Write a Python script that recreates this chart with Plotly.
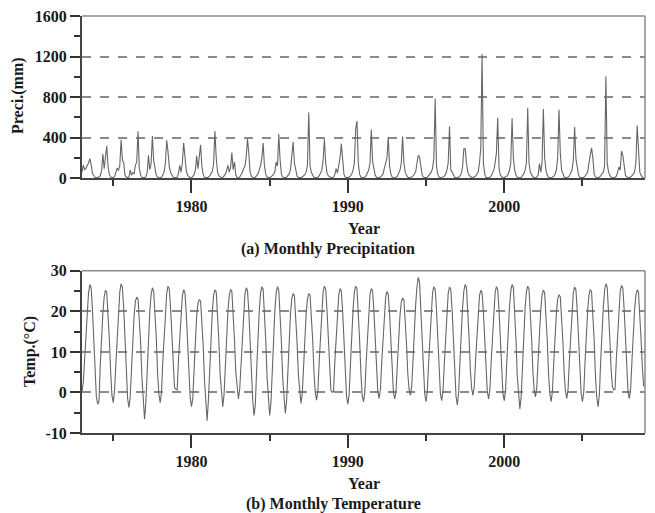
import plotly.graph_objects as go
from plotly.subplots import make_subplots

start_year = 1973
# Monthly precipitation (mm), Jan..Dec per row, 1973-2008
precip_mm = [
    60, 130, 85, 95, 125, 150, 193, 140, 45, 20, 10, 6,
    4, 12, 25, 70, 238, 95, 200, 318, 115, 35, 12, 5,
    8, 18, 60, 100, 75, 125, 380, 180, 150, 30, 14, 4,
    10, 80, 30, 55, 45, 130, 160, 462, 95, 32, 9, 5,
    6, 15, 55, 226, 85, 140, 415, 175, 80, 28, 12, 4,
    5, 12, 30, 65, 150, 374, 260, 110, 55, 22, 9, 6,
    7, 10, 45, 128, 60, 150, 350, 200, 75, 30, 12, 5,
    4, 15, 35, 80, 220, 95, 200, 330, 115, 35, 10, 6,
    5, 12, 22, 45, 65, 150, 465, 200, 60, 25, 12, 5,
    6, 20, 40, 75, 128, 60, 105, 252, 85, 160, 30, 10,
    5, 12, 30, 55, 95, 120, 210, 390, 244, 60, 20, 6,
    4, 10, 25, 45, 80, 125, 200, 347, 120, 40, 12, 5,
    6, 12, 22, 40, 65, 160, 120, 435, 180, 42, 11, 5,
    5, 10, 25, 45, 85, 200, 360, 150, 60, 22, 10, 4,
    6, 12, 20, 35, 60, 130, 647, 120, 55, 22, 9, 5,
    4, 10, 22, 45, 80, 180, 385, 150, 50, 25, 12, 6,
    5, 12, 35, 95, 50, 120, 200, 340, 180, 40, 10, 5,
    6, 12, 22, 45, 80, 150, 488, 563, 150, 40, 12, 4,
    5, 10, 25, 55, 80, 150, 481, 165, 90, 30, 10, 6,
    4, 12, 22, 40, 100, 145, 200, 405, 120, 40, 12, 5,
    6, 10, 20, 45, 80, 150, 410, 150, 60, 30, 10, 5,
    5, 12, 22, 40, 60, 145, 225, 210, 100, 32, 10, 4,
    6, 10, 25, 45, 60, 100, 200, 785, 120, 40, 12, 5,
    5, 12, 20, 40, 80, 150, 510, 80, 60, 30, 10, 6,
    4, 10, 22, 45, 110, 290, 292, 150, 60, 30, 12, 5,
    6, 12, 20, 40, 60, 150, 300, 1225, 150, 40, 10, 5,
    5, 10, 22, 45, 80, 150, 250, 595, 100, 30, 12, 4,
    6, 12, 20, 40, 80, 150, 592, 200, 80, 32, 10, 5,
    5, 10, 25, 45, 80, 150, 693, 150, 60, 30, 12, 6,
    4, 12, 30, 144, 60, 150, 683, 200, 80, 30, 10, 5,
    6, 10, 20, 40, 80, 200, 675, 250, 80, 32, 12, 5,
    5, 12, 22, 45, 80, 177, 504, 193, 100, 30, 10, 4,
    6, 10, 20, 40, 60, 150, 242, 300, 200, 40, 12, 5,
    5, 12, 22, 45, 60, 120, 1005, 150, 60, 30, 10, 6,
    4, 10, 20, 60, 111, 80, 268, 226, 90, 30, 12, 5,
    6, 12, 22, 40, 60, 150, 520, 200, 60, 30, 10, 5,
]

# Monthly mean temperature (deg C), Jan..Dec per row, 1973-2008
temp_c = [
    0.2, 2.5, 8.0, 14.5, 20.0, 24.5, 26.6, 25.8, 20.5, 13.8, 5.5, -1.0,
    -2.9, -2.3, 6.5, 13.5, 19.5, 23.5, 25.2, 24.6, 20.0, 13.0, 5.0, -0.8,
    -2.5, 0.5, 7.0, 14.0, 20.5, 24.8, 26.8, 25.9, 20.8, 13.2, 4.5, -1.5,
    -3.7, -1.0, 5.8, 13.0, 19.0, 22.5, 23.5, 23.0, 18.5, 12.0, 3.5, -2.8,
    -6.6, -2.5, 6.0, 14.0, 19.8, 24.0, 25.8, 25.0, 20.0, 13.5, 4.8, -0.5,
    -2.5, 0.0, 7.5, 14.2, 20.3, 24.5, 26.2, 25.5, 20.6, 13.5, 5.5, 1.2,
    0.8, 0.6, 7.8, 13.8, 19.8, 23.8, 25.3, 24.6, 19.5, 12.6, 4.2, -1.2,
    -3.5, -1.5, 5.5, 13.0, 19.0, 22.0, 22.9, 22.5, 18.0, 11.5, 3.0, -3.2,
    -7.0, -2.0, 6.8, 14.5, 20.0, 24.0, 25.3, 24.8, 19.8, 12.8, 4.5, -1.0,
    -3.5, -0.5, 7.0, 14.0, 20.2, 24.0, 25.4, 24.9, 19.6, 13.0, 5.0, 0.5,
    -1.6, 0.8, 7.5, 14.5, 20.5, 24.2, 25.8, 25.1, 20.0, 12.5, 3.8, -2.0,
    -5.7, -3.0, 5.5, 14.0, 20.0, 24.5, 26.1, 25.4, 20.0, 12.8, 3.8, -1.8,
    -5.7, -2.5, 6.0, 14.2, 20.3, 24.6, 26.1, 25.2, 19.8, 12.5, 3.5, -1.5,
    -5.2, -2.0, 6.5, 13.8, 19.5, 23.2, 24.4, 23.8, 19.0, 12.5, 4.5, -0.5,
    -2.7, -0.5, 7.0, 14.0, 19.5, 23.0, 24.4, 24.0, 19.5, 13.0, 5.0, 0.0,
    -1.9, 0.5, 7.5, 14.5, 20.5, 24.8, 26.2, 25.5, 20.2, 13.2, 5.5, 0.5,
    0.0, 0.3, 7.5, 14.2, 20.0, 24.0, 25.6, 25.0, 20.0, 12.8, 4.5, -1.0,
    -2.9, -0.5, 7.0, 14.5, 20.5, 24.8, 26.2, 25.6, 20.5, 13.0, 4.8, -0.8,
    -2.3, 0.0, 7.2, 14.0, 20.0, 24.2, 25.6, 25.0, 20.0, 13.0, 5.0, 0.0,
    -1.5, 0.8, 7.5, 14.0, 19.5, 23.5, 24.9, 24.3, 19.5, 12.5, 4.5, -0.2,
    -1.6, 0.5, 7.0, 13.5, 19.0, 22.3, 23.3, 22.8, 18.5, 12.0, 4.5, 0.8,
    -0.7, 1.5, 8.0, 15.5, 21.5, 26.0, 28.4, 27.2, 21.0, 13.5, 5.0, -0.5,
    -2.3, 0.5, 7.5, 14.5, 20.5, 24.6, 26.1, 25.4, 20.5, 13.0, 4.5, -0.3,
    -2.0, 0.2, 7.0, 14.2, 20.3, 24.5, 26.0, 25.3, 20.3, 13.0, 4.5, -1.0,
    -3.1, 0.0, 7.5, 14.8, 20.8, 25.0, 26.6, 25.9, 20.8, 13.5, 5.5, 1.0,
    -0.7, 1.5, 8.0, 14.5, 20.0, 23.9, 25.2, 24.6, 19.8, 13.0, 5.0, 0.2,
    -1.6, 0.8, 7.8, 14.5, 20.5, 24.6, 26.1, 25.4, 20.2, 13.0, 4.8, -0.3,
    -2.0, 0.5, 7.8, 15.0, 21.0, 25.0, 26.6, 25.9, 20.5, 13.0, 4.0, -1.5,
    -4.1, -1.0, 7.0, 14.8, 20.8, 24.8, 26.2, 25.5, 20.5, 13.2, 5.0, 0.5,
    -1.1, 1.5, 8.0, 14.8, 20.3, 24.0, 25.2, 24.6, 19.8, 12.8, 4.5, -0.5,
    -2.3, 0.5, 7.5, 14.0, 19.5, 23.0, 24.1, 23.6, 19.2, 12.5, 4.5, 0.2,
    -1.5, 1.0, 8.0, 14.8, 20.5, 24.6, 26.0, 25.3, 20.3, 13.0, 5.0, -0.2,
    -2.3, 0.0, 7.5, 14.5, 20.2, 24.0, 25.4, 24.8, 19.8, 12.8, 4.0, -1.3,
    -3.5, -0.5, 7.8, 15.0, 21.0, 25.2, 26.8, 26.0, 20.8, 13.5, 5.5, 1.5,
    0.6, 0.8, 8.2, 15.0, 20.8, 25.0, 26.4, 25.7, 20.5, 13.0, 4.8, 0.0,
    -1.5, 1.0, 7.8, 14.5, 20.3, 24.0, 25.3, 24.8, 20.0, 13.0, 6.0, 1.5,
]

x_major_ticks = [1980, 1990, 2000]
x_tick_labels = ["1980", "1990", "2000"]
precip_ticks = [0, 400, 800, 1200, 1600]
precip_tick_labels = ["0", "400", "800", "1200", "1600"]
temp_ticks = [-10, 0, 10, 20, 30]
temp_tick_labels = ["-10", "0", "10", "20", "30"]

t = [start_year + i / 12.0 for i in range(len(precip_mm))]

FONT = "Liberation Serif"
TXT = "#1a1a1a"
LINE = "#666666"
W, H = 647, 505          # page has an 8px body margin
L, R, T, B = 74, 10, 8, 80
PLOT_H = H - T - B
TOP_DOM = [0.611, 1.0]
BOT_DOM = [0.0, 0.389]

fig = make_subplots(rows=2, cols=1, vertical_spacing=0.2)
fig.add_trace(go.Scatter(x=t, y=precip_mm, mode="lines",
                         line=dict(color=LINE, width=1.1), showlegend=False), row=1, col=1)
fig.add_trace(go.Scatter(x=t, y=temp_c, mode="lines",
                         line=dict(color=LINE, width=1.1), showlegend=False), row=2, col=1)

tickfont = dict(family=FONT, size=16, color=TXT, weight="bold")

xcommon = dict(range=[1973, 2009], tickmode="array", tickvals=x_major_ticks,
               ticktext=x_tick_labels, automargin=False, ticklabeloverflow="allow",
               ticks="outside", ticklen=13, tickwidth=2, tickcolor="#333",
               showline=True, linecolor="#444", linewidth=2, showgrid=False, zeroline=False,
               minor=dict(tick0=1975, dtick=10, ticks="outside", ticklen=6, tickwidth=2,
                          tickcolor="#333", showgrid=False),
               tickfont=tickfont)
fig.update_xaxes(**xcommon, row=1, col=1)
fig.update_xaxes(**xcommon, row=2, col=1)

ycommon = dict(ticks="outside", ticklen=10, tickwidth=2, tickcolor="#333",
               showline=True, linecolor="#444", linewidth=2, zeroline=False,
               automargin=False, ticklabeloverflow="allow",
               showgrid=True, gridcolor="#8a8a8a", griddash="dash", gridwidth=1.5,
               tickfont=tickfont)
fig.update_yaxes(**ycommon, range=[0, 1600], tickmode="array", tickvals=precip_ticks,
                 ticktext=precip_tick_labels,
                 minor=dict(tick0=200, dtick=400, ticks="outside", ticklen=6, tickwidth=2,
                            tickcolor="#333", showgrid=False),
                 row=1, col=1)
fig.update_yaxes(**ycommon, range=[-10, 30], tickmode="array", tickvals=temp_ticks,
                 ticktext=temp_tick_labels,
                 minor=dict(tick0=-5, dtick=10, ticks="outside", ticklen=6, tickwidth=2,
                            tickcolor="#333", showgrid=False),
                 row=2, col=1)

fig.update_layout(
    width=W, height=H,
    margin=dict(l=L, r=R, t=T, b=B, autoexpand=False),
    paper_bgcolor="white", plot_bgcolor="white",
    font=dict(family=FONT, size=16, color=TXT),
    xaxis=dict(domain=[0, 1], anchor="y"),
    yaxis=dict(domain=TOP_DOM),
    xaxis2=dict(domain=[0, 1], anchor="y2"),
    yaxis2=dict(domain=BOT_DOM),
)

# lighter frame on top/right (paper-referenced, so not clipped)
frame = dict(color="#8a8a8a", width=1.5)
for dom in (TOP_DOM, BOT_DOM):
    fig.add_shape(type="line", xref="paper", yref="paper", x0=0, x1=1,
                  y0=dom[1], y1=dom[1], line=frame, layer="above")
    fig.add_shape(type="line", xref="paper", yref="paper", x0=1, x1=1,
                  y0=dom[0], y1=dom[1], line=frame, layer="above")


def py_paper(page_y):
    fy = page_y - 8
    return (H - B - fy) / PLOT_H


def px_paper(page_x):
    fx = page_x - 8
    return (fx - L) / (W - L - R)


bold = dict(family=FONT, size=16, color=TXT, weight="bold")
for text, page_x, page_y in (
    ("Year", 363.5, 229),
    ("(a) Monthly Precipitation", 327.5, 249),
    ("Year", 363.5, 484),
    ("(b) Monthly Temperature", 333, 504),
):
    fig.add_annotation(text=text, x=px_paper(page_x), xref="paper", y=py_paper(page_y),
                       yref="paper", showarrow=False, font=bold,
                       xanchor="center", yanchor="middle")

fig.add_annotation(text="Preci.(mm)", textangle=-90, x=px_paper(18), xref="paper",
                   y=py_paper(96), yref="paper", showarrow=False, font=bold,
                   xanchor="center", yanchor="middle")
fig.add_annotation(text="Temp.(°C)", textangle=-90, x=px_paper(30), xref="paper",
                   y=py_paper(352), yref="paper", showarrow=False, font=bold,
                   xanchor="center", yanchor="middle")

fig.write_html("out.html")
